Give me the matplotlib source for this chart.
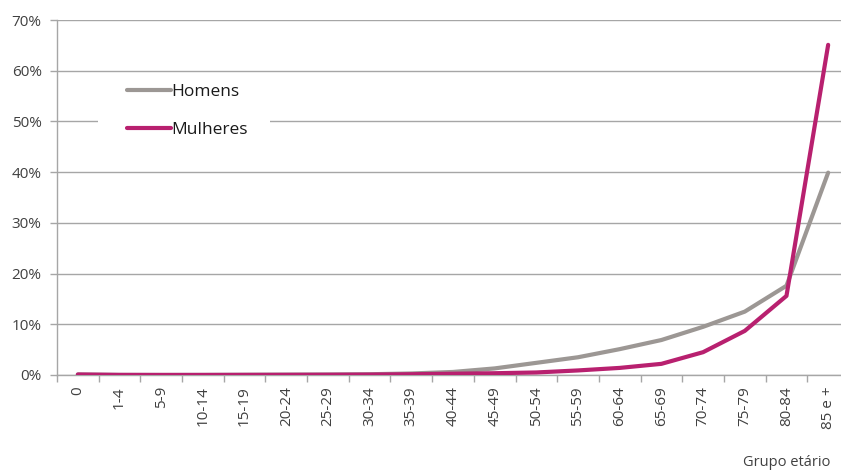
import matplotlib.pyplot as plt
import numpy as np
from matplotlib.patches import Rectangle
from matplotlib.ticker import FuncFormatter, FixedLocator

plt.rcParams["font.family"] = ["Open Sans", "DejaVu Sans"]

AGE_GROUPS = ["0", "1-4", "5-9", "10-14", "15-19", "20-24", "25-29", "30-34",
              "35-39", "40-44", "45-49", "50-54", "55-59", "60-64", "65-69",
              "70-74", "75-79", "80-84", "85 e +"]
HOMENS = [0.1, 0.02, 0.01, 0.02, 0.05, 0.08, 0.1, 0.15, 0.3, 0.6, 1.3, 2.4,
          3.5, 5.1, 6.9, 9.5, 12.5, 17.6, 39.9]
MULHERES = [0.1, 0.02, 0.01, 0.01, 0.02, 0.03, 0.05, 0.08, 0.15, 0.25, 0.35,
            0.5, 0.9, 1.4, 2.2, 4.5, 8.7, 15.6, 65.1]

GRAY = "#9c9794"
MAGENTA = "#b8206f"
GRID = "#a6a6a6"
TEXT = "#404040"

W, H = 841, 470
fig = plt.figure(figsize=(W / 100, H / 100), dpi=100)
ax = fig.add_axes([57 / W, 95 / H, (849 - 57) / W, (375 - 20) / H])

x = np.arange(len(AGE_GROUPS))
ax.plot(x, HOMENS, color=GRAY, lw=3.0, label="Homens", solid_capstyle="round", zorder=3)
ax.plot(x, MULHERES, color=MAGENTA, lw=3.0, label="Mulheres", solid_capstyle="round", zorder=4)

ax.set_xlim(-0.5, len(AGE_GROUPS) - 0.5)
ax.set_ylim(0, 70)
ax.set_yticks(np.arange(0, 71, 10))
ax.yaxis.set_major_formatter(FuncFormatter(lambda v, p: f"{v:.0f}%"))
ax.grid(axis="y", color=GRID, lw=1.0, zorder=0)
ax.set_axisbelow(True)

ax.set_xticks(x)
ax.set_xticklabels(AGE_GROUPS, rotation=90)
ax.xaxis.set_minor_locator(FixedLocator(np.arange(-0.5, len(AGE_GROUPS), 1.0)))
ax.tick_params(axis="x", which="major", length=0, pad=8, labelsize=11, colors=TEXT)
ax.tick_params(axis="x", which="minor", length=5, width=1, color=GRID)
ax.tick_params(axis="y", length=5, width=1, color=GRID, labelsize=11, labelcolor=TEXT, pad=6)

for s in ["top", "right"]:
    ax.spines[s].set_visible(False)
for s in ["left", "bottom"]:
    ax.spines[s].set_color(GRID)
    ax.spines[s].set_linewidth(1.0)

# white area behind the legend (hides part of the 50% gridline)
ax.add_patch(Rectangle((0.052, 0.61), 0.217, 0.16, transform=ax.transAxes,
                       facecolor="white", edgecolor="none", zorder=1))

leg = ax.legend(loc="center left", bbox_to_anchor=(0.078, 0.744), frameon=False,
                fontsize=12.5, handlelength=2.5, handletextpad=0.05,
                labelspacing=1.3, borderpad=0.0)
for t in leg.get_texts():
    t.set_color("#1a1a1a")

fig.text(830 / W, 1 - 462 / H, "Grupo etário", ha="right", va="center",
         fontsize=10.5, color=TEXT)

fig.savefig("out.png", dpi=100)
